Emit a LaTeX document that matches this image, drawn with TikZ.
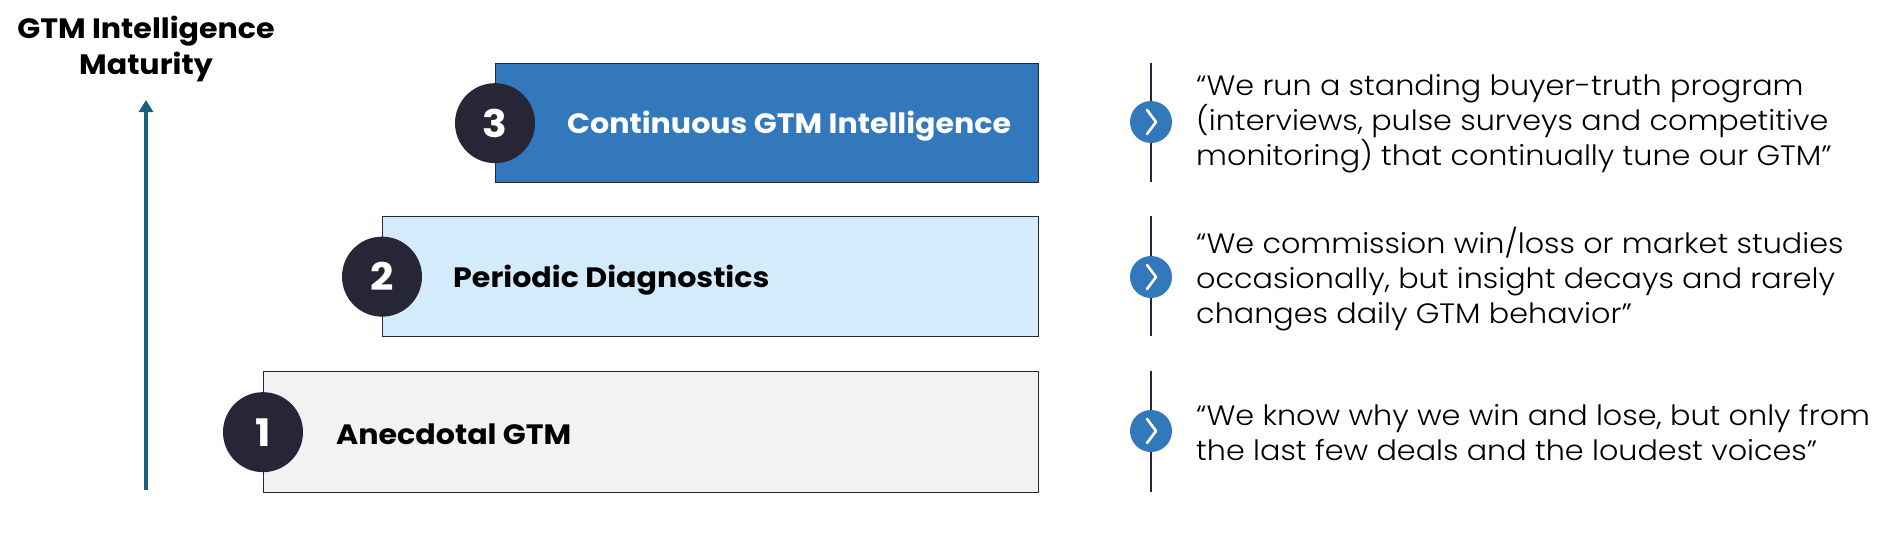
\documentclass[tikz,border=0pt]{standalone}
\usepackage{fontspec}
\setmainfont{Poppins}[FakeStretch=1.075]
\newfontfamily\lightfont{Poppins Light}[FakeStretch=1.08]
\usetikzlibrary{arrows.meta}
\definecolor{navy}{HTML}{262636}
\definecolor{midblue}{HTML}{3478BC}
\definecolor{lightblue}{HTML}{D4EBFB}
\definecolor{lightgrey}{HTML}{F2F2F2}
\definecolor{arrowblue}{HTML}{1A5E80}
\begin{document}
\begin{tikzpicture}[x=1pt,y=-1pt,
  stagebox/.style={draw=navy, line width=1.3pt, anchor=north west, inner sep=0pt},
  numcirc/.style={circle, fill=navy, minimum size=80pt, inner sep=0pt, text=white, font=\fontsize{38}{40}\selectfont\bfseries},
  stagelabel/.style={anchor=west, inner sep=0pt, font=\fontsize{28}{32}\selectfont\bfseries},
  chevcirc/.style={circle, fill=midblue, minimum size=42pt, inner sep=0pt},
  sepline/.style={draw=navy, line width=1.8pt},
  chevline/.style={draw=white, line width=2.6pt, line cap=round, line join=round},
  quote/.style={anchor=west, align=left, inner sep=0pt, font=\lightfont\fontsize{28}{35}\selectfont}
]
\useasboundingbox (0,0) rectangle (1894,549);
% title
\node[align=center, inner sep=0pt, font=\fontsize{28}{36}\selectfont\bfseries] (title) at (146,49) {GTM Intelligence\\Maturity};
% axis arrow
\coordinate (abot) at (146,490);
\coordinate (atop) at (146,100);
\draw[draw=arrowblue, line width=3.5pt, -{Triangle[width=14pt,length=12pt]}] (abot) -- (atop);
% boxes
\node[stagebox, fill=midblue, minimum width=543pt, minimum height=119pt] (b3) at (495,63) {};
\node[stagebox, fill=lightblue, minimum width=656pt, minimum height=120pt] (b2) at (382,216) {};
\node[stagebox, fill=lightgrey, minimum width=775pt, minimum height=121pt] (b1) at (263,371) {};
% number circles
\node[numcirc] (n3) at (b3.west) {3};
\node[numcirc] (n2) at (b2.west) {2};
\node[numcirc] (n1) at (b1.west) {1};
% labels
\node[stagelabel, text=white] (l3) at (567,126) {Continuous GTM Intelligence};
\node[stagelabel] (l2) at (453,280) {Periodic Diagnostics};
\node[stagelabel] (l1) at (336,434) {Anecdotal GTM};
% chevrons and separators
\foreach \n/\yt/\yc/\yb in {3/63/122/182, 2/216/277/336, 1/371/431/492}{
  \node[chevcirc] (c\n) at (1151,\yc) {};
  \coordinate (t\n) at (1151,\yt);
  \coordinate (u\n) at (1151,\yb);
  \draw[sepline] (t\n) -- (c\n);
  \draw[sepline] (c\n) -- (u\n);
  \draw[chevline] ([xshift=-4pt,yshift=12pt]c\n.center) -- ([xshift=5pt]c\n.center) -- ([xshift=-4pt,yshift=-12pt]c\n.center);
}
% quotes
\node[quote] (q3) at (1196,124) {“We run a standing buyer-truth program\\(interviews, pulse surveys and competitive\\monitoring) that continually tune our GTM”};
\node[quote] (q2) at (1196,279) {“We commission win/loss or market studies\\occasionally, but insight decays and rarely\\changes daily GTM behavior”};
\node[quote] (q1) at (1196,433) {“We know why we win and lose, but only from\\the last few deals and the loudest voices”};
\end{tikzpicture}
\end{document}
